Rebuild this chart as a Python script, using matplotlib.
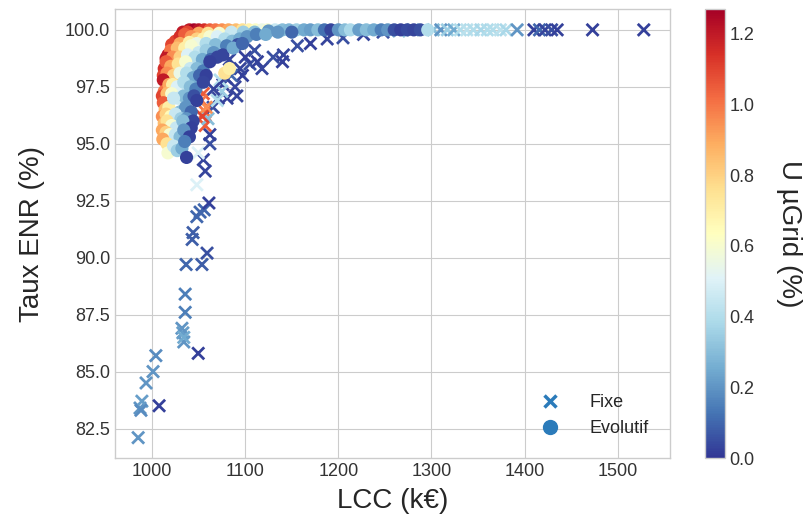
import matplotlib
matplotlib.use('Agg')
import matplotlib.pyplot as plt
import matplotlib.lines as mlines
from matplotlib.colors import Normalize

# Solutions "Fixe" (LCC en k€, taux ENR en %, U µGrid en %)
fixe_lcc = [985, 987, 989, 988, 1007.5, 993.5, 1001, 1004, 1049.5, 1034, 1033, 1032, 1034,
            1035.5, 1035.5, 1036.5, 1053.5, 1059, 1043, 1044, 1048, 1051.5, 1056, 1061,
            1048, 1057, 1055, 1049.5, 1062, 1062, 1057, 1057, 1060, 1065.5, 1071, 1080.5,
            1091, 1089, 1076, 1073, 1097, 1094.5, 1085, 1105, 1113, 1118, 1130, 1140, 1141,
            1156, 1170, 1188, 1205, 1227, 1248, 1265, 1280, 1302, 1310, 1317, 1324, 1331,
            1338, 1345, 1353, 1360, 1366, 1374, 1380, 1392, 1410, 1416, 1422, 1429, 1435,
            1473, 1528,
            1055, 1053, 1058, 1054, 1070, 1075, 1079, 1066, 1083, 1100, 1110]
fixe_enr = [82.1, 83.4, 83.7, 83.3, 83.5, 84.5, 85.0, 85.7, 85.8, 86.3, 86.7, 86.9, 86.5,
            87.6, 88.4, 89.7, 89.7, 90.2, 90.8, 91.1, 91.8, 92.0, 92.1, 92.4,
            93.2, 93.8, 94.3, 94.6, 95.0, 95.4, 95.8, 96.4, 96.1, 96.6, 97.0, 97.0,
            97.1, 97.5, 97.6, 97.8, 98.0, 98.3, 98.0, 98.5, 98.6, 98.3, 98.8, 98.6, 98.9,
            99.3, 99.4, 99.6, 99.65, 99.8, 99.9, 99.95, 100, 100, 100, 100, 100, 100,
            100, 100, 100, 100, 100, 100, 100, 100, 100, 100, 100, 100, 100,
            100, 100,
            97.2, 96.9, 96.6, 96.2, 96.9, 97.3, 97.9, 97.4, 98.7, 98.8, 99.1]
fixe_u = [0.2, 0.2, 0.22, 0.18, 0.02, 0.2, 0.2, 0.18, 0.02, 0.2, 0.22, 0.2, 0.25,
          0.15, 0.15, 0.1, 0.08, 0.05, 0.08, 0.08, 0.1, 0.1, 0.1, 0.02,
          0.5, 0.03, 0.03, 0.5, 0.05, 0.02, 1.05, 1.0, 0.3, 0.05, 0.03, 0.02,
          0.03, 0.03, 0.02, 0.4, 0.02, 0.03, 0.1, 0.05, 0.02, 0.03, 0.05, 0.02, 0.03,
          0.05, 0.02, 0.03, 0.05, 0.03, 0.05, 0.3, 0.25, 0.3, 0.2, 0.35, 0.25, 0.4,
          0.42, 0.4, 0.38, 0.4, 0.4, 0.42, 0.38, 0.2, 0.02, 0.1, 0.03, 0.05, 0.02,
          0.02, 0.02,
          1.05, 1.0, 0.95, 1.1, 0.4, 0.35, 0.02, 0.03, 0.03, 0.02, 0.05]

# Solutions "Evolutif"
evo_lcc = [1040, 1045, 1050, 1056, 1062, 1068, 1075, 1082, 1090, 1097, 1104, 1111, 1118,
           1124, 1132, 1140, 1147, 1155, 1163, 1170, 1178, 1185, 1192, 1200, 1207, 1213,
           1222, 1230, 1238, 1246, 1253, 1260, 1267, 1274, 1281, 1288, 1296,
           1033, 1038, 1050, 1060, 1072, 1085, 1098, 1110, 1125,
           1025, 1030, 1035, 1042, 1048, 1055, 1062, 1070, 1078, 1086, 1094, 1102, 1112,
           1122, 1135, 1150,
           1021, 1030, 1040, 1048, 1058, 1068, 1080, 1092,
           1017, 1020, 1027, 1035, 1042, 1050, 1058, 1066, 1076, 1087, 1097,
           1015, 1022, 1030, 1038, 1046, 1054, 1063, 1070,
           1013, 1015, 1020, 1028, 1036, 1041, 1048, 1055, 1062, 1078, 1083,
           1012, 1016, 1023, 1030, 1037, 1044, 1051, 1058,
           1012, 1013, 1018, 1022, 1027, 1034, 1041, 1047, 1055,
           1011, 1016, 1021, 1028, 1034, 1040, 1045,
           1012, 1014, 1018, 1023, 1030, 1036, 1042, 1048,
           1011, 1015, 1020, 1025, 1031, 1037, 1044,
           1013, 1016, 1021, 1026, 1033, 1037, 1042,
           1011, 1015, 1019, 1025, 1030, 1034, 1040,
           1011.5, 1016, 1017, 1023, 1027, 1032, 1035, 1037]
evo_enr = [100, 100, 100, 100, 100, 100, 100, 100, 100, 100, 100, 100, 100,
           100, 100, 100, 100, 100, 100, 100, 100, 100, 100, 100, 100, 100,
           100, 100, 100, 100, 100, 100, 100, 100, 100, 100, 100,
           99.9, 99.9, 99.85, 99.85, 99.85, 99.9, 99.9, 99.9, 99.95,
           99.5, 99.7, 99.8, 99.7, 99.6, 99.6, 99.7, 99.7, 99.6, 99.5, 99.6, 99.7, 99.8,
           99.8, 99.9, 99.9,
           99.35, 99.4, 99.45, 99.4, 99.4, 99.35, 99.3, 99.35,
           98.9, 99.1, 99.2, 99.2, 99.3, 99.0, 99.1, 99.0, 98.9, 99.2, 99.4,
           98.75, 98.8, 98.8, 98.9, 98.8, 98.7, 98.7, 98.8,
           98.3, 98.6, 98.4, 98.5, 98.6, 98.3, 98.3, 98.2, 98.6, 98.1, 98.3,
           98.0, 98.1, 98.0, 98.1, 98.1, 97.9, 98.0, 98.0,
           97.8, 97.3, 97.6, 97.6, 97.5, 97.7, 97.5, 97.4, 97.7,
           97.1, 97.2, 97.2, 97.0, 97.1, 97.0, 97.1,
           96.8, 96.5, 96.6, 97.0, 96.4, 96.6, 96.4, 96.9,
           96.2, 96.3, 96.2, 96.3, 96.1, 96.1, 96.0,
           95.9, 96.0, 95.8, 95.7, 96.0, 95.4, 95.7,
           95.6, 95.5, 95.4, 95.4, 95.3, 95.6, 95.3,
           95.2, 95.0, 94.6, 94.9, 94.7, 94.8, 95.1, 94.4]
evo_u = [1.2, 1.27, 1.22, 1.15, 1.05, 1.0, 0.95, 0.9, 0.85, 0.75, 0.68, 0.62, 0.55,
         0.6, 0.45, 0.3, 0.28, 0.35, 0.25, 0.22, 0.3, 0.12, 0.03, 0.2, 0.3, 0.38,
         0.22, 0.3, 0.25, 0.15, 0.2, 0.05, 0.02, 0.04, 0.03, 0.05, 0.4,
         1.2, 1.1, 0.9, 0.75, 0.6, 0.45, 0.35, 0.3, 0.2,
         1.1, 1.15, 1.05, 0.95, 0.8, 0.7, 0.6, 0.5, 0.4, 0.3, 0.25, 0.2, 0.15,
         0.25, 0.2, 0.1,
         1.1, 0.9, 0.7, 0.55, 0.4, 0.3, 0.15, 0.05,
         1.2, 1.0, 0.85, 0.7, 0.6, 0.45, 0.35, 0.2, 0.03, 0.25, 0.1,
         1.2, 0.95, 0.8, 0.5, 0.4, 0.25, 0.1, 0.03,
         1.15, 1.05, 0.9, 0.75, 0.6, 0.45, 0.3, 0.15, 0.02, 0.75, 0.7,
         1.1, 0.95, 0.8, 0.55, 0.4, 0.25, 0.1, 0.02,
         1.2, 1.0, 0.9, 0.7, 0.5, 0.4, 0.3, 0.15, 0.03,
         1.1, 0.85, 0.6, 0.45, 0.3, 0.2, 0.05,
         1.05, 0.85, 0.7, 0.45, 0.3, 0.2, 0.1, 0.02,
         0.95, 0.8, 0.65, 0.45, 0.35, 0.2, 0.03,
         0.85, 0.75, 0.6, 0.45, 0.3, 0.15, 0.02,
         0.9, 0.8, 0.6, 0.45, 0.3, 0.2, 0.02,
         0.9, 0.75, 0.6, 0.45, 0.35, 0.25, 0.15, 0.02]

plt.style.use('seaborn-v0_8-whitegrid')

fig = plt.figure(figsize=(8.09, 5.23), dpi=100)
ax = fig.add_axes([0.142, 0.124, 0.686, 0.859])
cax = fig.add_axes([0.871, 0.124, 0.0247, 0.859])

norm = Normalize(vmin=0.0, vmax=max(evo_u + fixe_u))
cmap = 'RdYlBu_r'

ax.scatter(fixe_lcc, fixe_enr, c=fixe_u, cmap=cmap, norm=norm, marker='x',
           s=75, linewidths=2)
sc = ax.scatter(evo_lcc, evo_enr, c=evo_u, cmap=cmap, norm=norm, marker='o',
                s=90, edgecolors='none')

ax.set_xlim(960, 1556)
ax.set_ylim(81.2, 100.92)
ax.set_xticks([1000, 1100, 1200, 1300, 1400, 1500])
ax.set_yticks([82.5, 85.0, 87.5, 90.0, 92.5, 95.0, 97.5, 100.0])
ax.tick_params(labelsize=13, colors='#333333')
ax.set_xlabel('LCC (k€)', fontsize=20, labelpad=6)
ax.set_ylabel('Taux ENR (%)', fontsize=20, labelpad=14)

handles = [
    mlines.Line2D([0], [0], marker='x', color='w', markeredgecolor='#2b7bba',
                  markeredgewidth=2.5, markersize=9, label='Fixe'),
    mlines.Line2D([0], [0], marker='o', color='w', markerfacecolor='#2b7bba',
                  markeredgecolor='#2b7bba', markersize=10, label='Evolutif'),
]
ax.legend(handles=handles, loc='lower right', fontsize=13, frameon=False,
          borderaxespad=0.75, handletextpad=1.2)

cb = fig.colorbar(sc, cax=cax)
cb.set_ticks([0.0, 0.2, 0.4, 0.6, 0.8, 1.0, 1.2])
cb.ax.tick_params(labelsize=13, colors='#333333')
cb.outline.set_edgecolor('#cccccc')
cb.set_label('U µGrid (%)', fontsize=20, rotation=270, labelpad=34)

plt.savefig('out.png', dpi=100)
